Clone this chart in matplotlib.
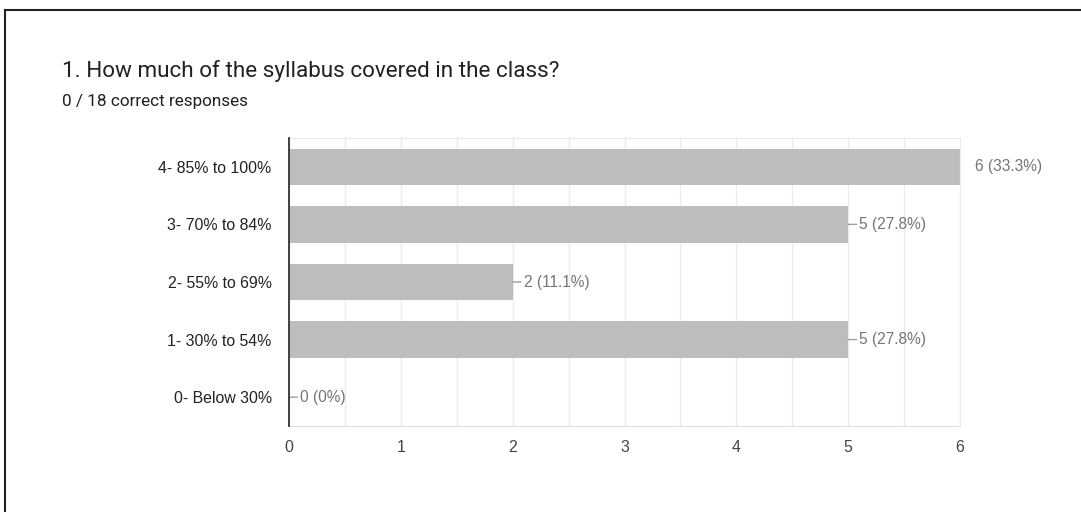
import matplotlib
matplotlib.use("Agg")
import matplotlib.pyplot as plt
from matplotlib.lines import Line2D

plt.rcParams['font.family'] = ['Liberation Sans', 'DejaVu Sans']

categories = ["4- 85% to 100%", "3- 70% to 84%", "2- 55% to 69%", "1- 30% to 54%", "0- Below 30%"]
counts = [6, 5, 2, 5, 0]
labels = ["6 (33.3%)", "5 (27.8%)", "2 (11.1%)", "5 (27.8%)", "0 (0%)"]
xticks = [0, 1, 2, 3, 4, 5, 6]
title = "1. How much of the syllabus covered in the class?"
subtitle = "0 / 18 correct responses"

W, H = 1081, 512
fig = plt.figure(figsize=(W / 100, H / 100), dpi=100)
fig.patch.set_facecolor("white")

# frame lines (top and left)
fig.add_artist(Line2D([5 / W, 5 / W], [0, 1 - 10 / H], color="#222222", lw=1.5, transform=fig.transFigure))
fig.add_artist(Line2D([5 / W, 1], [1 - 10 / H, 1 - 10 / H], color="#222222", lw=1.5, transform=fig.transFigure))

fig.text(62 / W, 1 - 77 / H, title, fontsize=16.2, color="#202124",
         family=["Roboto", "DejaVu Sans"], va="baseline")
fig.text(62 / W, 1 - 106 / H, subtitle, fontsize=12.3, color="#202124",
         family=["Roboto", "DejaVu Sans"], va="baseline")

x0, x1 = 289, 960
y0, y1 = 138, 426
ax = fig.add_axes([x0 / W, 1 - y1 / H, (x1 - x0) / W, (y1 - y0) / H])
n = len(categories)
ypos = list(range(n))
ax.barh(ypos, counts, height=0.63, color="#bdbdbd", zorder=2)
ax.set_ylim(n - 0.5, -0.5)
ax.set_xlim(0, 6)
ax.set_xticks(xticks)
ax.set_xticks([v + 0.5 for v in xticks[:-1]], minor=True)
ax.grid(True, axis="x", which="both", color="#ebebeb", lw=1, zorder=0)
ax.set_yticks(ypos)
ax.set_yticklabels(categories)
ax.tick_params(axis="y", length=0, pad=12.5, labelsize=11.4, labelcolor="#222222")
ax.tick_params(axis="x", which="both", length=0, pad=10, labelsize=11.4, labelcolor="#444444")
for s in ["top", "right"]:
    ax.spines[s].set_color("#ebebeb")
ax.spines["bottom"].set_color("#e0e0e0")
ax.spines["left"].set_color("#333333")
ax.spines["left"].set_linewidth(1.3)
ax.spines["left"].set_zorder(3)

for y, v, lab in zip(ypos, counts, labels):
    if v >= 6:
        ax.annotate(lab, xy=(v, y), xytext=(11, 0), textcoords="offset points",
                    va="center", ha="left", fontsize=11.2, color="#757575",
                    annotation_clip=False)
    else:
        ax.annotate(lab, xy=(v, y), xytext=(8, 0), textcoords="offset points",
                    va="center", ha="left", fontsize=11.2, color="#757575",
                    arrowprops=dict(arrowstyle="-", color="#9e9e9e", lw=1,
                                    shrinkA=0, shrinkB=0),
                    annotation_clip=False)

fig.savefig("out.png", dpi=100, facecolor="white")
